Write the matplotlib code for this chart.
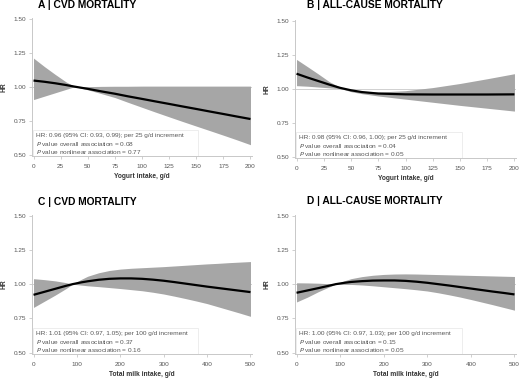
import numpy as np
import matplotlib
matplotlib.use("Agg")
import matplotlib.pyplot as plt

plt.rcParams['font.family'] = ['Liberation Sans', 'DejaVu Sans']

# ---- data ----
# Panel A: yogurt, CVD mortality
a_x = [0, 10, 20, 30, 38, 50, 62, 75, 87, 100, 112, 125, 137, 150, 162, 175, 187, 200]
a_hr = [1.045, 1.036, 1.025, 1.012, 1.000, 0.984, 0.966, 0.948, 0.929, 0.910,
        0.892, 0.873, 0.855, 0.836, 0.818, 0.799, 0.781, 0.762]
a_lo = [0.905, 0.930, 0.955, 0.980, 1.000, 0.977, 0.950, 0.920, 0.885, 0.848,
        0.814, 0.778, 0.745, 0.710, 0.678, 0.643, 0.610, 0.573]
a_hi = [1.210, 1.148, 1.090, 1.035, 1.000, 1.000, 1.002, 1.003, 1.003, 1.004,
        1.004, 1.004, 1.004, 1.004, 1.004, 1.004, 1.004, 1.004]

# Panel B: yogurt, all-cause mortality
b_x = [0, 10, 20, 30, 40, 45, 50, 60, 75, 100, 125, 150, 175, 200]
b_hr = [1.110, 1.082, 1.056, 1.030, 1.006, 0.997, 0.988, 0.975, 0.964, 0.958,
        0.957, 0.957, 0.957, 0.958]
b_lo = [1.022, 1.018, 1.012, 1.006, 1.000, 0.990, 0.978, 0.963, 0.946, 0.923,
        0.900, 0.877, 0.856, 0.835]
b_hi = [1.215, 1.162, 1.108, 1.052, 1.010, 1.000, 0.992, 0.980, 0.975, 0.985,
        1.008, 1.038, 1.073, 1.110]

# Panel C: total milk, CVD mortality
c_x = [0, 25, 50, 75, 90, 110, 125, 150, 175, 200, 225, 250, 275, 300, 325,
       350, 375, 400, 425, 450, 475, 500]
c_hr = [0.922, 0.944, 0.966, 0.988, 1.000, 1.013, 1.021, 1.032, 1.039, 1.042,
        1.042, 1.039, 1.033, 1.025, 1.015, 1.004, 0.993, 0.982, 0.972, 0.962,
        0.952, 0.942]
c_lo = [0.830, 0.875, 0.920, 0.968, 1.000, 0.993, 0.988, 0.982, 0.975, 0.968,
        0.960, 0.952, 0.941, 0.928, 0.912, 0.895, 0.877, 0.858, 0.835, 0.812,
        0.789, 0.765]
c_hi = [1.040, 1.033, 1.024, 1.011, 1.000, 1.035, 1.058, 1.083, 1.100, 1.110,
        1.116, 1.120, 1.124, 1.128, 1.133, 1.138, 1.143, 1.148, 1.152, 1.157,
        1.161, 1.165]

# Panel D: total milk, all-cause mortality
d_x = c_x
d_hr = [0.937, 0.954, 0.971, 0.989, 1.000, 1.010, 1.016, 1.022, 1.026, 1.027,
        1.027, 1.024, 1.018, 1.010, 1.000, 0.990, 0.979, 0.968, 0.957, 0.946,
        0.936, 0.925]
d_lo = [0.870, 0.905, 0.945, 0.980, 1.000, 0.999, 0.998, 0.994, 0.988, 0.981,
        0.974, 0.967, 0.959, 0.950, 0.937, 0.922, 0.906, 0.888, 0.869, 0.850,
        0.830, 0.810]
d_hi = [1.010, 1.009, 1.007, 1.003, 1.000, 1.025, 1.040, 1.055, 1.065, 1.071,
        1.074, 1.075, 1.074, 1.072, 1.070, 1.068, 1.066, 1.064, 1.062, 1.060,
        1.058, 1.056]

titles = ["A | CVD MORTALITY", "B | ALL-CAUSE MORTALITY",
          "C | CVD MORTALITY", "D | ALL-CAUSE MORTALITY"]
xlabels = ["Yogurt intake, g/d", "Yogurt intake, g/d",
           "Total milk intake, g/d", "Total milk intake, g/d"]
yogurt_ticks = [0, 25, 50, 75, 100, 125, 150, 175, 200]
milk_ticks = [0, 100, 200, 300, 400, 500]
y_ticks = [0.50, 0.75, 1.00, 1.25, 1.50]
annotations = [
    ("HR: 0.96 (95% CI: 0.93, 0.99); per 25 g/d increment", "0.08", "0.77"),
    ("HR: 0.98 (95% CI: 0.96, 1.00); per 25 g/d increment", "0.04", "0.05"),
    ("HR: 1.01 (95% CI: 0.97, 1.05); per 100 g/d increment", "0.37", "0.16"),
    ("HR: 1.00 (95% CI: 0.97, 1.03); per 100 g/d increment", "0.15", "0.05"),
]

panels = [(a_x, a_hr, a_lo, a_hi), (b_x, b_hr, b_lo, b_hi),
          (c_x, c_hr, c_lo, c_hi), (d_x, d_hr, d_lo, d_hi)]

fig = plt.figure(figsize=(5.2, 3.8), dpi=100)
W, H = 520.0, 380.0
# axes pixel boxes: left, right, top, bottom
boxes = [(32, 252, 18, 156), (295, 516, 20, 158),
         (32, 252, 215, 354), (295, 516, 215, 354)]
title_pos = [(38, 5), (307, 5), (38, 202), (307, 201)]

grey_txt = '#555555'
axis_col = '#c8c8c8'

for i, ((x, hr, lo, hi), (l, r, t, b)) in enumerate(zip(panels, boxes)):
    ax = fig.add_axes([l / W, 1 - b / H, (r - l) / W, (b - t) / H])
    xmax = 200 if i < 2 else 500
    pad = xmax * 0.007
    ax.set_xlim(-pad, xmax + pad)
    ax.set_ylim(0.49, 1.505)
    ax.fill_between(x, lo, hi, color='#a6a6a6', linewidth=0, zorder=1)
    ax.axhline(1.0, color='#d0d0d0', linewidth=0.7, zorder=0.5)
    ax.plot(x, hr, color='black', linewidth=1.6, zorder=3,
            solid_capstyle='butt', solid_joinstyle='round')
    ax.set_xticks(yogurt_ticks if i < 2 else milk_ticks)
    ax.set_yticks(y_ticks)
    ax.set_yticklabels(["%.2f" % v for v in y_ticks])
    for s in ['top', 'right']:
        ax.spines[s].set_visible(False)
    for s in ['left', 'bottom']:
        ax.spines[s].set_color(axis_col)
        ax.spines[s].set_linewidth(0.7)
    ax.tick_params(axis='both', colors=axis_col, labelcolor=grey_txt,
                   labelsize=4.6, length=2, width=0.6, pad=2)
    ax.tick_params(axis='x', pad=3.5)
    ax.set_xlabel(xlabels[i], fontsize=4.8, fontweight='bold',
                  color='#333333')
    ax.xaxis.set_label_coords(0.5, -0.125)
    ax.set_ylabel("HR", fontsize=4.8, fontweight='bold', color='#333333')
    ax.yaxis.set_label_coords(-0.11, 0.5)
    hrtxt, p1, p2 = annotations[i]
    fs = 4.65
    ax.text(0.02, 0.145, hrtxt, transform=ax.transAxes, fontsize=fs,
            color=grey_txt, va='center', ha='left', zorder=5)
    ax.text(0.02, 0.087, r"$\it{P}$ value overall association = " + p1,
            transform=ax.transAxes, fontsize=fs, color=grey_txt,
            va='center', ha='left', zorder=5)
    ax.text(0.02, 0.029, r"$\it{P}$ value nonlinear association = " + p2,
            transform=ax.transAxes, fontsize=fs, color=grey_txt,
            va='center', ha='left', zorder=5)
    rect = plt.Rectangle((0.005, 0.0), 0.75, 0.19, transform=ax.transAxes,
                         fill=False, edgecolor='#e6e6e6', linewidth=0.5,
                         zorder=4)
    ax.add_patch(rect)
    tx, ty = title_pos[i]
    fig.text(tx / W, 1 - ty / H, titles[i], fontsize=7.4, fontweight='bold',
             color='black', ha='left', va='center')

fig.savefig("out.png", dpi=100)
